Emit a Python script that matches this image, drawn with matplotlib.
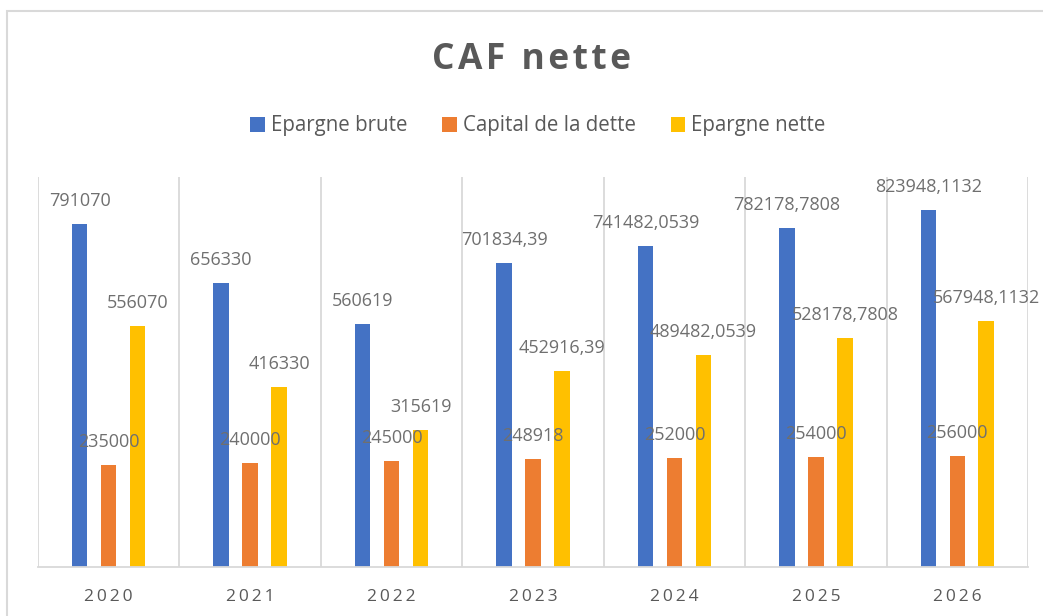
import numpy as np
import matplotlib
matplotlib.use("Agg")
import matplotlib.pyplot as plt
from matplotlib.patches import Rectangle, Patch

# data
years = ["2020", "2021", "2022", "2023", "2024", "2025", "2026"]
epargne_brute = [791070, 656330, 560619, 701834.39, 741482.0539, 782178.7808, 823948.1132]
capital_dette = [235000, 240000, 245000, 248918, 252000, 254000, 256000]
epargne_nette = [556070, 416330, 315619, 452916.39, 489482.0539, 528178.7808, 567948.1132]
series_names = ["Epargne brute", "Capital de la dette", "Epargne nette"]
colors = ["#4472c4", "#ed7d31", "#ffc000"]
title = "CAF nette"

plt.rcParams['font.family'] = ['Open Sans', 'DejaVu Sans']
txt = '#595959'
lbl = '#6f6f6f'


def fr(v):
    # french decimal comma, as in the workbook
    if float(v).is_integer():
        return str(int(v))
    return repr(float(v)).replace('.', ',')


def spaced(s, sp='\u200a'):
    # excel-like letter spacing
    return sp.join(s)


W, H = 1043, 616
fig = plt.figure(figsize=(W / 100, H / 100), dpi=100)
ax = fig.add_axes([38 / W, (H - 567) / H, (1028 - 38) / W, (567 - 177) / H])

x = np.arange(len(years))
offsets = [-0.205, 0.0, 0.205]
width = 0.11
for vals, off, c in zip([epargne_brute, capital_dette, epargne_nette], offsets, colors):
    bars = ax.bar(x + off, vals, width, color=c, zorder=2)
    for b, v in zip(bars, vals):
        ax.annotate(fr(v), (b.get_x() + b.get_width() / 2, b.get_height()),
                    xytext=(0, 16.5), textcoords='offset points',
                    ha='center', va='center', fontsize=13, color=lbl, zorder=4)

ax.set_xlim(-0.5, len(years) - 0.5)
ax.set_ylim(0, 900000)
ax.set_yticks([])
ax.set_xticks(x)
ax.set_xticklabels([spaced(y, '\u2009') for y in years], fontsize=12.5, color=txt)
ax.tick_params(axis='x', length=0, pad=16)
ax.set_xticks(np.arange(-0.5, len(years)), minor=True)
ax.tick_params(axis='x', which='minor', length=0)
ax.grid(axis='x', which='minor', color='#d9d9d9', lw=1.3, zorder=0)
for s in ['left', 'right', 'top']:
    ax.spines[s].set_visible(False)
ax.spines['bottom'].set_color('#d9d9d9')
ax.spines['bottom'].set_linewidth(1.3)

fig.text(532 / W, 1 - 60 / H, spaced(title), ha='center', va='center',
         fontsize=25.5, fontweight='bold', color=txt)

handles = [Patch(facecolor=c) for c in colors]
fig.legend(handles, series_names, loc='center', bbox_to_anchor=(538 / W, 1 - 126 / H),
           ncol=3, frameon=False, fontsize=14.8, labelcolor=txt,
           handlelength=0.7, handleheight=0.7, handletextpad=0.3, columnspacing=1.7)

fig.add_artist(Rectangle((7 / W, -0.1), 1.2, (H - 11) / H + 0.1, transform=fig.transFigure,
                         fill=False, edgecolor='#d9d9d9', lw=1.5))

fig.savefig("out.png", dpi=100)
